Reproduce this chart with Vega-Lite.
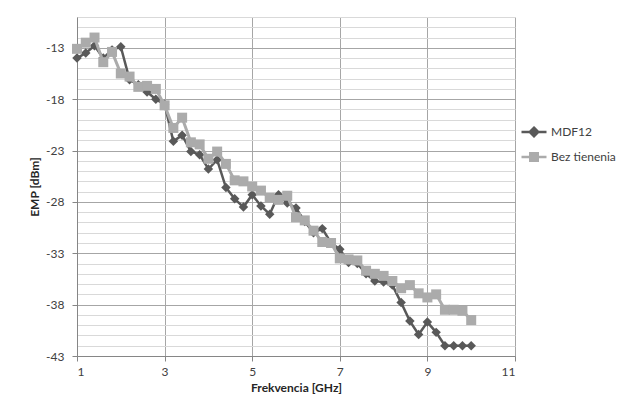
{
  "$schema": "https://vega.github.io/schema/vega-lite/v6.json",
  "width": 438,
  "height": 339,
  "autosize": "none",
  "padding": {"left": 77, "top": 17, "right": 119, "bottom": 55},
  "background": "white",
  "config": {"view": {"stroke": null}, "font": "Lato"},
  "data": {"values": [
    {"f":1.0,"s":"MDF12","v":-14.0},{"f":1.2,"s":"MDF12","v":-13.5},{"f":1.4,"s":"MDF12","v":-12.8},{"f":1.6,"s":"MDF12","v":-14.0},{"f":1.8,"s":"MDF12","v":-13.2},{"f":2.0,"s":"MDF12","v":-12.9},{"f":2.2,"s":"MDF12","v":-16.1},{"f":2.4,"s":"MDF12","v":-16.6},{"f":2.6,"s":"MDF12","v":-17.3},{"f":2.8,"s":"MDF12","v":-18.0},{"f":3.0,"s":"MDF12","v":-18.5},{"f":3.2,"s":"MDF12","v":-22.1},{"f":3.4,"s":"MDF12","v":-21.5},{"f":3.6,"s":"MDF12","v":-23.1},{"f":3.8,"s":"MDF12","v":-23.4},{"f":4.0,"s":"MDF12","v":-24.8},{"f":4.2,"s":"MDF12","v":-23.9},{"f":4.4,"s":"MDF12","v":-26.6},{"f":4.6,"s":"MDF12","v":-27.7},{"f":4.8,"s":"MDF12","v":-28.5},{"f":5.0,"s":"MDF12","v":-27.3},{"f":5.2,"s":"MDF12","v":-28.4},{"f":5.4,"s":"MDF12","v":-29.2},{"f":5.6,"s":"MDF12","v":-27.3},{"f":5.8,"s":"MDF12","v":-28.1},{"f":6.0,"s":"MDF12","v":-28.6},{"f":6.2,"s":"MDF12","v":-29.9},{"f":6.4,"s":"MDF12","v":-31.0},{"f":6.6,"s":"MDF12","v":-30.6},{"f":6.8,"s":"MDF12","v":-32.0},{"f":7.0,"s":"MDF12","v":-32.6},{"f":7.2,"s":"MDF12","v":-33.9},{"f":7.4,"s":"MDF12","v":-34.0},{"f":7.6,"s":"MDF12","v":-35.0},{"f":7.8,"s":"MDF12","v":-35.7},{"f":8.0,"s":"MDF12","v":-35.8},{"f":8.2,"s":"MDF12","v":-36.1},{"f":8.4,"s":"MDF12","v":-37.8},{"f":8.6,"s":"MDF12","v":-39.6},{"f":8.8,"s":"MDF12","v":-40.9},{"f":9.0,"s":"MDF12","v":-39.7},{"f":9.2,"s":"MDF12","v":-40.7},{"f":9.4,"s":"MDF12","v":-42.0},{"f":9.6,"s":"MDF12","v":-42.0},{"f":9.8,"s":"MDF12","v":-42.0},{"f":10.0,"s":"MDF12","v":-42.0},
    {"f":1.0,"s":"Bez tienenia","v":-13.1},{"f":1.2,"s":"Bez tienenia","v":-12.5},{"f":1.4,"s":"Bez tienenia","v":-12.0},{"f":1.6,"s":"Bez tienenia","v":-14.4},{"f":1.8,"s":"Bez tienenia","v":-13.4},{"f":2.0,"s":"Bez tienenia","v":-15.5},{"f":2.2,"s":"Bez tienenia","v":-15.8},{"f":2.4,"s":"Bez tienenia","v":-16.8},{"f":2.6,"s":"Bez tienenia","v":-16.7},{"f":2.8,"s":"Bez tienenia","v":-17.0},{"f":3.0,"s":"Bez tienenia","v":-18.6},{"f":3.2,"s":"Bez tienenia","v":-20.8},{"f":3.4,"s":"Bez tienenia","v":-19.8},{"f":3.6,"s":"Bez tienenia","v":-22.2},{"f":3.8,"s":"Bez tienenia","v":-22.4},{"f":4.0,"s":"Bez tienenia","v":-23.8},{"f":4.2,"s":"Bez tienenia","v":-23.1},{"f":4.4,"s":"Bez tienenia","v":-24.3},{"f":4.6,"s":"Bez tienenia","v":-25.9},{"f":4.8,"s":"Bez tienenia","v":-26.0},{"f":5.0,"s":"Bez tienenia","v":-26.5},{"f":5.2,"s":"Bez tienenia","v":-26.9},{"f":5.4,"s":"Bez tienenia","v":-27.6},{"f":5.6,"s":"Bez tienenia","v":-27.8},{"f":5.8,"s":"Bez tienenia","v":-27.4},{"f":6.0,"s":"Bez tienenia","v":-29.5},{"f":6.2,"s":"Bez tienenia","v":-29.8},{"f":6.4,"s":"Bez tienenia","v":-30.8},{"f":6.6,"s":"Bez tienenia","v":-31.9},{"f":6.8,"s":"Bez tienenia","v":-32.0},{"f":7.0,"s":"Bez tienenia","v":-33.5},{"f":7.2,"s":"Bez tienenia","v":-33.6},{"f":7.4,"s":"Bez tienenia","v":-33.7},{"f":7.6,"s":"Bez tienenia","v":-34.7},{"f":7.8,"s":"Bez tienenia","v":-35.0},{"f":8.0,"s":"Bez tienenia","v":-35.2},{"f":8.2,"s":"Bez tienenia","v":-35.7},{"f":8.4,"s":"Bez tienenia","v":-36.4},{"f":8.6,"s":"Bez tienenia","v":-36.1},{"f":8.8,"s":"Bez tienenia","v":-36.9},{"f":9.0,"s":"Bez tienenia","v":-37.3},{"f":9.2,"s":"Bez tienenia","v":-37.0},{"f":9.4,"s":"Bez tienenia","v":-38.5},{"f":9.6,"s":"Bez tienenia","v":-38.5},{"f":9.8,"s":"Bez tienenia","v":-38.6},{"f":10.0,"s":"Bez tienenia","v":-39.5}
  ]},
  "encoding": {
    "x": {"field": "f", "type": "quantitative",
      "scale": {"domain": [1, 11], "nice": false, "zero": false},
      "axis": {"title": "Frekvencia [GHz]", "values": [1,3,5,7,9,11], "grid": true, "gridColor": "#a6a6a6", "gridWidth": 1,
        "domainColor": "#868686", "tickColor": "#868686", "tickSize": 5, "labelPadding": 5, "labelFontSize": 12, "labelColor": "#404040", "labelFont": "Lato",
        "titleFontSize": 12, "titleFontWeight": "bold", "titleColor": "#262626", "titlePadding": 5, "titleFont": "Lato"}},
    "y": {"field": "v", "type": "quantitative",
      "scale": {"domain": [-43, -10], "nice": false, "zero": false},
      "axis": {"title": "EMP [dBm]",
        "values": [-43,-42,-41,-40,-39,-38,-37,-36,-35,-34,-33,-32,-31,-30,-29,-28,-27,-26,-25,-24,-23,-22,-21,-20,-19,-18,-17,-16,-15,-14,-13,-12,-11,-10],
        "labelExpr": "(datum.value + 43) % 5 === 0 ? toString(datum.value) : ''",
        "grid": true,
        "gridColor": {"condition": {"test": "(datum.value + 43) % 5 === 0", "value": "#a6a6a6"}, "value": "#d9d9d9"},
        "tickColor": {"condition": {"test": "(datum.value + 43) % 5 === 0", "value": "#868686"}, "value": "transparent"},
        "tickSize": 5, "labelPadding": 8, "domainColor": "#868686",
        "labelFontSize": 12, "labelColor": "#404040", "labelFont": "Lato",
        "titleFontSize": 12, "titleFontWeight": "bold", "titleColor": "#262626", "titlePadding": 4, "titleFont": "Lato"}},
    "color": {"field": "s", "type": "nominal",
      "scale": {"domain": ["MDF12", "Bez tienenia"], "range": ["#595959", "#ababab"]},
      "legend": {"orient": "none", "legendX": 443, "legendY": 101, "title": null, "padding": 0,
        "symbolSize": 625, "rowPadding": 1, "labelOffset": 3, "labelFontSize": 12, "labelColor": "#404040", "labelFont": "Lato",
        "encode": {"symbols": {"update": {
          "shape": {"signal": "datum.value === 'MDF12' ? 'M-1,0L-0.34,0M0,-0.34L0.34,0L0,0.34L-0.34,0ZM0.34,0L1,0' : 'M-1,0L-0.3,0M-0.3,-0.3L0.3,-0.3L0.3,0.3L-0.3,0.3ZM0.3,0L1,0'"},
          "fill": {"scale": "color", "field": "value"},
          "stroke": {"scale": "color", "field": "value"},
          "strokeWidth": {"value": 2.5},
          "opacity": {"value": 1}
        }}}}}
  },
  "layer": [
    {"transform": [{"filter": "datum.s === 'MDF12'"}], "mark": {"type": "line", "strokeWidth": 2.5}},
    {"transform": [{"filter": "datum.s === 'MDF12'"}], "mark": {"type": "point", "shape": "diamond", "filled": true, "size": 90, "opacity": 1}},
    {"transform": [{"filter": "datum.s === 'Bez tienenia'"}], "mark": {"type": "line", "strokeWidth": 3}},
    {"transform": [{"filter": "datum.s === 'Bez tienenia'"}], "mark": {"type": "point", "shape": "square", "filled": true, "size": 100, "opacity": 1}}
  ]
}
